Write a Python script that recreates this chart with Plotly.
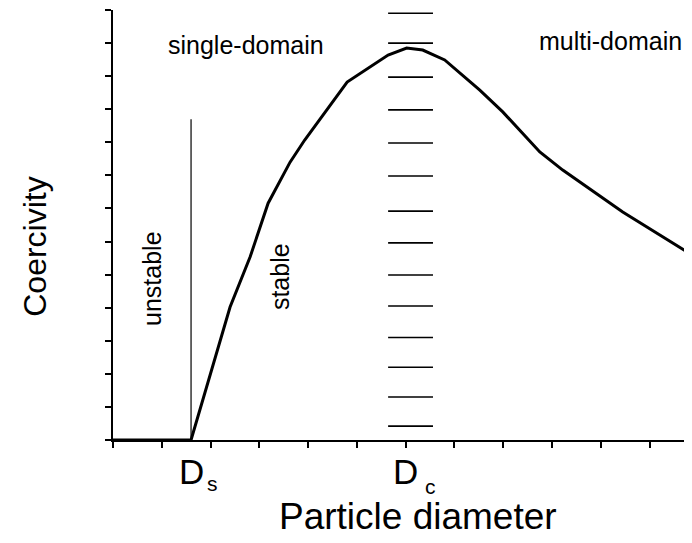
import plotly.graph_objects as go

# Coercivity curve (arbitrary units) vs particle diameter (arbitrary units)
diameter = [0.0, 1.6, 2.40, 2.81, 3.18, 3.63, 3.93, 4.45, 4.80, 5.64, 6.02, 6.35, 6.80, 7.52, 7.99, 8.75, 9.22, 10.45, 11.9]
coercivity = [0.0, 0.0, 4.02, 5.53, 7.16, 8.40, 9.07, 10.13, 10.82, 11.64, 11.85, 11.79, 11.49, 10.58, 9.92, 8.71, 8.16, 6.89, 5.57]

# Ds boundary line
ds_x = 1.6
ds_top = 9.7

# Dc dashed marker (short horizontal dashes)
dc_x0, dc_x1 = 5.64, 6.56
dc_levels = [12.9, 12.0, 10.97, 9.98, 8.98, 7.98, 6.92, 5.96, 4.99, 4.05, 3.1, 2.2, 1.3, 0.42]

dc_pos = 6.0

FONT = "Liberation Sans, Arial, sans-serif"

fig = go.Figure()

# dashes
dx, dy = [], []
for lv in dc_levels:
    dx += [dc_x0, dc_x1, None]
    dy += [lv, lv, None]
fig.add_trace(go.Scatter(x=dx, y=dy, mode="lines", line=dict(color="black", width=1.6),
                         hoverinfo="skip", showlegend=False, cliponaxis=False))

# Ds vertical line
fig.add_trace(go.Scatter(x=[ds_x, ds_x], y=[0, ds_top], mode="lines",
                         line=dict(color="black", width=1.2), showlegend=False))

# main curve
fig.add_trace(go.Scatter(x=diameter, y=coercivity, mode="lines",
                         line=dict(color="black", width=3), showlegend=False))

def txt(size):
    return dict(size=size, color="black", family=FONT)

annotations = [
    dict(x=2.72, y=11.95, text="single-domain", showarrow=False, font=txt(25)),
    dict(x=10.2, y=12.05, text="multi-domain", showarrow=False, font=txt(25)),
    dict(x=0.8, y=4.87, text="unstable", textangle=-90, showarrow=False, font=txt(25)),
    dict(x=3.42, y=4.95, text="stable", textangle=-90, showarrow=False, font=txt(25)),
    # Ds / Dc labels
    dict(x=ds_x, y=0, yshift=-10, yanchor="top", text="D", showarrow=False, font=txt(35)),
    dict(x=ds_x, y=0, xshift=21, yshift=-30, yanchor="top", text="s", showarrow=False, font=txt(21)),
    dict(x=dc_pos, y=0, yshift=-10, yanchor="top", text="D", showarrow=False, font=txt(35)),
    dict(x=dc_pos, y=0, xshift=25, yshift=-33, yanchor="top", text="c", showarrow=False, font=txt(21)),
    # axis titles
    dict(x=0.527, xref="paper", y=-0.177, yref="paper", xanchor="center", yanchor="middle",
         text="Particle diameter", showarrow=False, font=txt(37)),
    dict(x=-0.135, xref="paper", y=0.449, yref="paper", xanchor="center", yanchor="middle",
         textangle=-90, text="Coercivity", showarrow=False, font=txt(32)),
]
fig.update_layout(annotations=annotations)

fig.update_xaxes(range=[0, 11.87], dtick=1, tick0=0, showticklabels=False, ticks="outside",
                 ticklen=6, tickwidth=1.5, tickcolor="black", showline=True, linecolor="black",
                 linewidth=2, showgrid=False, zeroline=False, automargin=False)
fig.update_yaxes(range=[0, 13], dtick=1, tick0=0, showticklabels=False, ticks="outside",
                 ticklen=6, tickwidth=1.5, tickcolor="black", showline=True, linecolor="black",
                 linewidth=2, showgrid=False, zeroline=False, automargin=False)

# the page body adds an 8px offset, so the figure is sized to land the plot area
# where the reference has it
fig.update_layout(width=684, height=535, margin=dict(l=105, r=0, t=2, b=103),
                  plot_bgcolor="white", paper_bgcolor="white")

fig.write_html("out.html")
